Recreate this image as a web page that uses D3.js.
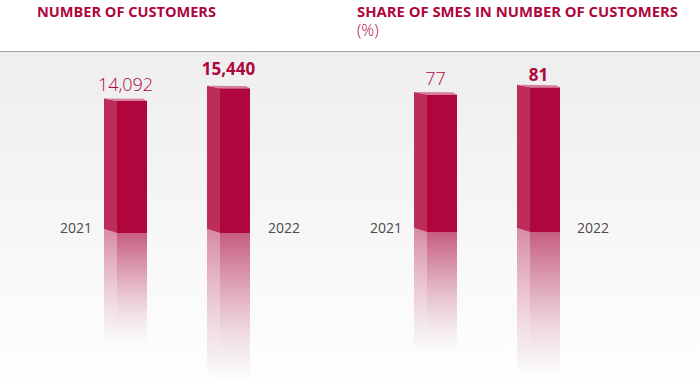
<!DOCTYPE html>
<html>
<head>
<meta charset="utf-8">
<script src="https://cdn.jsdelivr.net/npm/d3@7"></script>
<style>
  body { margin: 0; background: #fff; }
  svg { display: block; font-family: "Open Sans", sans-serif; }
</style>
</head>
<body>
<div id="chart"></div>
<script>
// data
var years = ["2021", "2022"];
var customers = [14092, 15440];
var smeShare = [77, 81];
var customerLabels = ["14,092", "15,440"];
var shareLabels = ["77", "81"];
var titles = ["NUMBER OF CUSTOMERS", "SHARE OF SMES IN NUMBER OF CUSTOMERS"];

var width = 700, height = 380;
var red = "#ae063d";

var svg = d3.select("#chart").append("svg")
    .attr("width", width)
    .attr("height", height);

var defs = svg.append("defs");

// background fade under the rule
var bg = defs.append("linearGradient").attr("id", "bgGrad")
    .attr("x1", 0).attr("y1", 0).attr("x2", 0).attr("y2", 1);
bg.append("stop").attr("offset", "0%").attr("stop-color", "#eeeeee");
bg.append("stop").attr("offset", "100%").attr("stop-color", "#fefefe");

svg.append("rect").attr("x", 0).attr("y", 52).attr("width", width).attr("height", height - 52)
    .attr("fill", "url(#bgGrad)");
svg.append("rect").attr("x", 0).attr("y", 0).attr("width", width).attr("height", 51).attr("fill", "#fff");
svg.append("line").attr("x1", 0).attr("x2", width).attr("y1", 51.5).attr("y2", 51.5)
    .attr("stroke", "#a0a0a0").attr("stroke-width", 1);

// reflection gradients (front and side)
function reflGrad(id, top, bottom, colors) {
    var g = defs.append("linearGradient").attr("id", id)
        .attr("gradientUnits", "userSpaceOnUse")
        .attr("x1", 0).attr("x2", 0).attr("y1", top).attr("y2", bottom);
    g.append("stop").attr("offset", "0%").attr("stop-color", colors[0]).attr("stop-opacity", 1);
    g.append("stop").attr("offset", "50%").attr("stop-color", colors[1]).attr("stop-opacity", 0.9);
    g.append("stop").attr("offset", "85%").attr("stop-color", "#f0e4e8").attr("stop-opacity", 0.6);
    g.append("stop").attr("offset", "100%").attr("stop-color", "#f6f2f3").attr("stop-opacity", 0.3);
}

var panels = [
    { title: titles[0], sub: null, tx: 37, tw: 179, values: customers, labels: customerLabels,
      domain: [0, 16000], base: 233, bars: [104, 207], yearX: [92, 268], gaps: [7, 11], reflLen: [110, 145] },
    { title: titles[1], sub: "(%)", tx: 357, tw: 321, values: smeShare, labels: shareLabels,
      domain: [0, 84], base: 232, bars: [414, 517], yearX: [402, 577], gaps: [7, 4], reflLen: [119, 142] }
];

var sideW = 13, frontW = 30;

panels.forEach(function (p, pi) {
    var g = svg.append("g");

    g.append("text")
        .attr("x", p.tx).attr("y", 17)
        .attr("fill", red)
        .attr("textLength", p.tw)
        .attr("lengthAdjust", "spacingAndGlyphs")
        .style("font-size", "14px")
        .style("font-weight", "bold")
        .text(p.title);
    if (p.sub) {
        g.append("text")
            .attr("x", p.tx).attr("y", 36)
            .attr("fill", red)
            .style("font-size", "16px")
            .style("font-weight", "300")
            .text(p.sub);
    }

    var y = d3.scaleLinear().domain(p.domain).range([p.base, p.base - 150]);

    p.values.forEach(function (v, i) {
        var x0 = p.bars[i], x1 = x0 + sideW, x2 = x1 + frontW;
        var yT = y(v), yB = y(0);
        var len = p.reflLen[i];
        reflGrad("rf" + pi + i, yB, yB + len, ["#c65d7f", "#e3b4c2"]);
        reflGrad("rs" + pi + i, yB, yB + len, ["#d88ea7", "#ebc6d3"]);

        // reflection
        g.append("polygon")
            .attr("points", [[x0, yB - 4], [x1, yB], [x1, yB + len], [x0, yB + len - 4]].join(" "))
            .attr("fill", "url(#rs" + pi + i + ")");
        g.append("rect")
            .attr("x", x1).attr("y", yB).attr("width", frontW).attr("height", len)
            .attr("fill", "url(#rf" + pi + i + ")");

        // side face
        g.append("polygon")
            .attr("points", [[x0, yT - 2.5], [x1, yT], [x1, yB], [x0, yB - 4]].join(" "))
            .attr("fill", "#bc2d59");
        // front face
        g.append("rect")
            .attr("x", x1).attr("y", yT).attr("width", frontW).attr("height", yB - yT)
            .attr("fill", red);
        // top face
        g.append("polygon")
            .attr("points", [[x0, yT - 2.5], [x2 - 4, yT - 2.2], [x2, yT], [x1, yT]].join(" "))
            .attr("fill", "#d7809c");

        // value label
        g.append("text")
            .attr("x", (x0 + x2) / 2).attr("y", yT - 2.5 - p.gaps[i])
            .attr("text-anchor", "middle")
            .attr("fill", red)
            .style("font-size", i == 1 ? "17px" : "18px")
            .style("font-weight", i == 1 ? "bold" : "300")
            .text(p.labels[i]);

        // year label
        g.append("text")
            .attr("x", p.yearX[i]).attr("y", 233)
            .attr("text-anchor", i == 0 ? "end" : "start")
            .attr("fill", "#4a4a4a")
            .style("font-size", "14px")
            .text(years[i]);
    });
});
</script>
</body>
</html>
